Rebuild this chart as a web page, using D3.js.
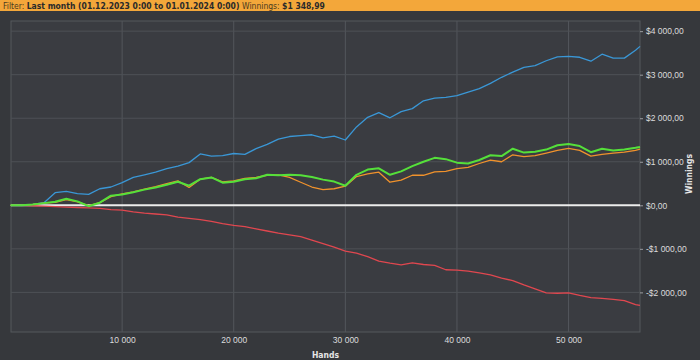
<!DOCTYPE html>
<html>
<head>
<meta charset="utf-8">
<script src="https://cdn.jsdelivr.net/npm/d3@7"></script>
<style>
  body { margin: 0; background: #36383c; }
  svg { display: block; font-family: "Liberation Sans Narrow", "DejaVu Sans Condensed", sans-serif; }
</style>
</head>
<body>
<svg id="chart" width="700" height="360"></svg>
<script>
// hands sampled every 1000, last point at the end of the month
const hands = [0,1000,2000,3000,4000,5000,6000,7000,8000,9000,10000,11000,12000,13000,14000,15000,16000,17000,18000,19000,
  20000,21000,22000,23000,24000,25000,26000,27000,28000,29000,30000,31000,32000,33000,34000,35000,36000,37000,38000,39000,
  40000,41000,42000,43000,44000,45000,46000,47000,48000,49000,50000,51000,52000,53000,54000,55000,56000,56400];

const blueVals = [0,0,20,60,290,320,270,250,380,420,520,640,700,760,840,900,980,1180,1130,1140,
  1190,1170,1300,1400,1520,1580,1600,1620,1550,1590,1500,1800,2020,2130,2010,2150,2220,2400,2460,2480,
  2520,2600,2680,2800,2940,3060,3170,3210,3320,3410,3420,3400,3310,3470,3380,3380,3560,3650];

const greenVals = [0,0,20,50,80,150,90,-20,60,220,250,300,360,410,470,540,450,600,640,520,
  540,600,620,700,690,700,690,650,590,545,450,700,820,850,700,780,900,1000,1090,1060,
  980,960,1040,1150,1130,1300,1210,1230,1280,1380,1410,1360,1220,1300,1260,1280,1320,1340];

const orangeVals = [0,0,20,50,70,130,80,-10,60,200,260,310,370,430,500,560,410,600,640,540,
  560,620,640,690,700,640,530,420,360,380,440,660,720,760,530,580,690,690,770,780,
  840,870,960,1040,1000,1160,1120,1140,1200,1260,1310,1260,1130,1170,1200,1220,1260,1290];

const redVals = [0,0,-10,-20,-30,-40,-50,-60,-70,-100,-110,-150,-180,-200,-220,-270,-300,-330,-370,-420,
  -460,-490,-540,-590,-640,-680,-720,-800,-880,-960,-1050,-1100,-1180,-1280,-1330,-1370,-1320,-1360,-1380,-1480,
  -1490,-1510,-1550,-1600,-1670,-1730,-1830,-1920,-2010,-2020,-2010,-2070,-2120,-2140,-2160,-2190,-2280,-2300];

const xTicks = [10000, 20000, 30000, 40000, 50000];
const yTicks = [-2000, -1000, 0, 1000, 2000, 3000, 4000];

const series = [
  { name: "red", values: redVals, color: "#e0474f", width: 1.3 },
  { name: "blue", values: blueVals, color: "#3a97d6", width: 1.3 },
  { name: "orange", values: orangeVals, color: "#f0922c", width: 1.3 },
  { name: "green", values: greenVals, color: "#55e03a", width: 2 }
];

const svg = d3.select("#chart");

// filter bar
svg.append("rect").attr("x", 0).attr("y", 0).attr("width", 700).attr("height", 11).attr("fill", "#f3a73a");
const bar = svg.append("text").attr("x", 3).attr("y", 8.5)
  .style("font-size", "8.5px").style("fill", "#2a2a2a");
bar.append("tspan").text("Filter: ").style("fill", "#4a3a20");
bar.append("tspan").text("Last month (01.12.2023 0:00 to 01.01.2024 0:00) ").style("font-weight", "bold");
bar.append("tspan").text("Winnings: ").style("fill", "#4a3a20");
bar.append("tspan").text("$1 348,99").style("font-weight", "bold");

const plot = { left: 11, right: 640, top: 21, bottom: 332 };

const x = d3.scaleLinear().domain([0, 56400]).range([10.5, plot.right]);
const y = d3.scaleLinear().domain([-2910, 4233]).range([plot.bottom, plot.top]);

svg.append("rect")
  .attr("x", plot.left).attr("y", plot.top)
  .attr("width", plot.right - plot.left).attr("height", plot.bottom - plot.top)
  .attr("fill", "#3a3c41").attr("stroke", "#55585d").attr("stroke-width", 1);

// grid
svg.append("g").selectAll("line").data(xTicks).join("line")
  .attr("x1", d => x(d)).attr("x2", d => x(d))
  .attr("y1", plot.top).attr("y2", plot.bottom)
  .attr("stroke", "#54575c").attr("stroke-width", 1);
svg.append("g").selectAll("line").data(yTicks.filter(d => d !== 0)).join("line")
  .attr("x1", plot.left).attr("x2", plot.right)
  .attr("y1", d => y(d)).attr("y2", d => y(d))
  .attr("stroke", "#4e5156").attr("stroke-width", 1);

// axes
const xAxis = svg.append("g")
  .attr("transform", `translate(0,${plot.bottom})`)
  .call(d3.axisBottom(x).tickValues(xTicks).tickSize(0).tickPadding(5)
    .tickFormat(d => d3.format(",")(d).replace(/,/g, " ")));
xAxis.select(".domain").remove();
xAxis.selectAll("text").style("font-size", "8.5px").style("fill", "#dcdcdc").style("font-family", null);

const money = d => (d < 0 ? "-" : "") + "$" + d3.format(",.2f")(Math.abs(d)).replace(/,/g, " ").replace(".", ",");
const yAxis = svg.append("g")
  .attr("transform", `translate(${plot.right},0)`)
  .call(d3.axisRight(y).tickValues(yTicks).tickSize(3).tickPadding(3).tickFormat(money));
yAxis.select(".domain").remove();
yAxis.selectAll("line").attr("stroke", "#9a9ca0");
yAxis.selectAll("text").style("font-size", "8.5px").style("fill", "#dcdcdc").style("font-family", null);

svg.append("text")
  .attr("transform", `translate(692,174) rotate(-90)`)
  .attr("text-anchor", "middle")
  .style("font-size", "8.5px").style("font-weight", "bold").style("fill", "#e6e6e6")
  .text("Winnings");

svg.append("text")
  .attr("x", (plot.left + plot.right) / 2).attr("y", 358)
  .attr("text-anchor", "middle")
  .style("font-size", "8.5px").style("font-weight", "bold").style("fill", "#e6e6e6")
  .text("Hands");

// zero line
svg.append("line")
  .attr("x1", plot.left).attr("x2", plot.right)
  .attr("y1", y(0)).attr("y2", y(0))
  .attr("stroke", "#ececec").attr("stroke-width", 2);

const line = d3.line().x((d, i) => x(hands[i])).y(d => y(d));

svg.append("g").selectAll("path").data(series).join("path")
  .attr("d", d => line(d.values))
  .attr("fill", "none")
  .attr("stroke", d => d.color)
  .attr("stroke-width", d => d.width)
  .attr("stroke-linejoin", "round");
</script>
</body>
</html>
